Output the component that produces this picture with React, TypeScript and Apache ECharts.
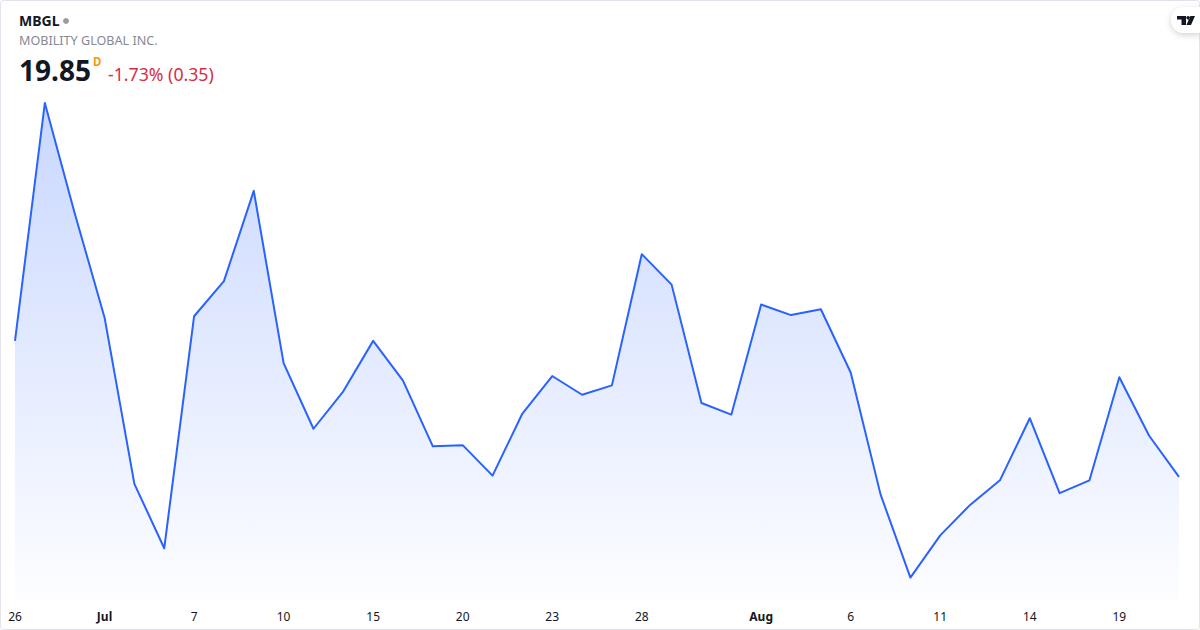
import React, { useEffect, useRef } from "react";
import * as echarts from "echarts";

const tickLabels = ["26","","","Jul","","","7","","","10","","","15","","","20","","","23","","","28","","","","Aug","","","6","","","11","","","14","","","19","",""];
const prices = [21.01,23.04,22.10,21.21,19.79,19.24,21.22,21.52,22.29,20.82,20.26,20.58,21.01,20.67,20.11,20.12,19.86,20.39,20.71,20.55,20.63,21.75,21.49,20.48,20.38,21.32,21.23,21.28,20.74,19.70,18.99,19.35,19.61,19.82,20.35,19.71,19.82,20.70,20.20,19.85];
const boldLabels = ["Jul", "Aug"];
const categories = prices.map((_, i) => `${i}|${tickLabels[i]}`);

const FONT = "'Noto Sans', 'Open Sans', sans-serif";
const LOGO_D = "M0 0H9V9H4.5V3.6H0Z M9.3 1.8A1.8 1.8 0 1 0 12.9 1.8A1.8 1.8 0 1 0 9.3 1.8Z M13.4 0H18L14 9H9.4Z";
echarts.graphic.registerShape("tvLogo", echarts.graphic.extendPath(LOGO_D, {}));

export default function App() {
  const ref = useRef<HTMLDivElement>(null);
  useEffect(() => {
    document.body.style.margin = "0";
    const chart = echarts.init(ref.current!, null, { renderer: "svg" });
    chart.setOption({
      animation: false,
      backgroundColor: "#ffffff",
      grid: { left: 15, right: 21, top: 103, bottom: 29 },
      xAxis: {
        type: "category",
        boundaryGap: false,
        data: categories,
        axisLine: { show: false },
        axisTick: { show: false },
        splitLine: { show: false },
        axisLabel: {
          interval: 0,
          margin: 9,
          color: "#131722",
          fontFamily: FONT,
          fontSize: 12,
          hideOverlap: false,
          formatter: (v: string) => {
            const t = v.split("|")[1];
            return boldLabels.includes(t) ? `{b|${t}}` : t;
          },
          rich: { b: { fontWeight: 700, fontSize: 12, color: "#131722", fontFamily: FONT } },
        },
      },
      yAxis: { type: "value", min: 18.79, max: 23.04, show: false },
      series: [
        {
          type: "line",
          data: prices,
          symbol: "none",
          smooth: false,
          lineStyle: { color: "#2962FF", width: 2, join: "round" },
          areaStyle: {
            color: new echarts.graphic.LinearGradient(0, 0, 0, 1, [
              { offset: 0, color: "rgba(41,98,255,0.36)" },
              { offset: 1, color: "rgba(41,98,255,0.015)" },
            ]),
          },
        },
      ],
      graphic: [
        { type: "rect", silent: true, shape: { x: 0.5, y: 0.5, width: 1199, height: 629, r: 3 }, style: { fill: "none", stroke: "#E0E3EB", lineWidth: 1 } },
        { type: "text", x: 19, y: 13, style: { text: "MBGL", font: `700 14px ${FONT}`, fill: "#131722" } },
        { type: "circle", shape: { cx: 66, cy: 21, r: 3 }, style: { fill: "#9A9CA3" } },
        { type: "text", x: 19, y: 34, style: { text: "MOBILITY GLOBAL INC.", font: `400 12.6px ${FONT}`, fill: "#868993" } },
        { type: "text", x: 19, y: 56, style: { text: "19.85", font: `700 28px ${FONT}`, fill: "#131722" } },
        { type: "text", x: 93, y: 55, style: { text: "D", font: `700 11.5px ${FONT}`, fill: "#FF9800" } },
        { type: "text", x: 108, y: 65, style: { text: "-1.73% (0.35)", font: `400 17.7px ${FONT}`, fill: "#D32F42" } },
        {
          type: "rect",
          shape: { x: 1171, y: 7, width: 29, height: 26, r: [13, 0, 0, 13] },
          style: { fill: "#FFFFFF", shadowBlur: 6, shadowColor: "rgba(0,0,0,0.18)", shadowOffsetY: 2 },
        },
        { type: "tvLogo", x: 1177, y: 16, style: { fill: "#131722" } },
      ],
    });
    return () => chart.dispose();
  }, []);
  return <div ref={ref} style={{ position: "absolute", left: 0, top: 0, width: 1200, height: 630 }} />;
}
